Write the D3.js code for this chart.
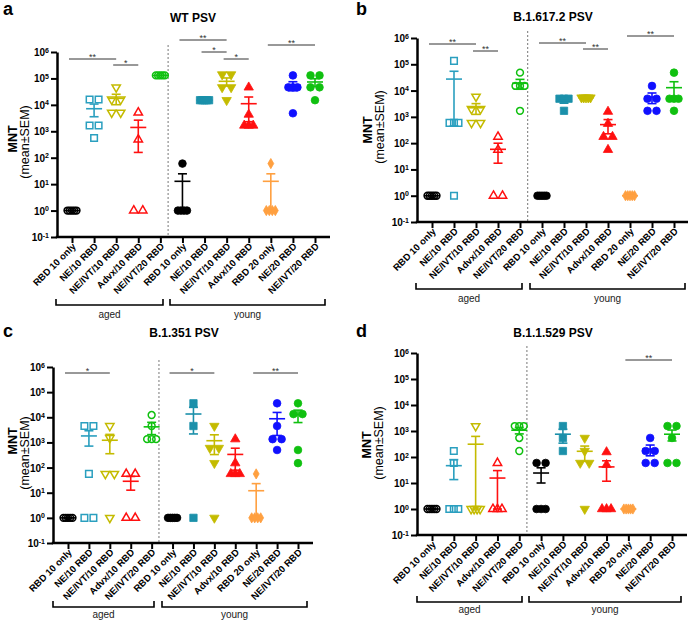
<!DOCTYPE html>
<html><head><meta charset="utf-8">
<script src="https://cdn.jsdelivr.net/npm/d3@7"></script>
<style>body{margin:0;background:#fff} svg{display:block} text{font-family:"Liberation Sans",Arial,sans-serif}</style>
</head><body><svg id="chart" width="691" height="620"></svg>
<script>
// ---------- DATA ----------
const categories = ["RBD 10 only","NE/10 RBD","NE/IVT/10 RBD","Advx/10 RBD","NE/IVT/20 RBD",
                    "RBD 10 only","NE/10 RBD","NE/IVT/10 RBD","Advx/10 RBD","RBD 20 only","NE/20 RBD","NE/IVT/20 RBD"];
const groupLabels = ["aged","young"];
const yTickExponents = [-1,0,1,2,3,4,5,6];
const panelTitles = ["WT PSV","B.1.617.2 PSV","B.1.351 PSV","B.1.1.529 PSV"];
const panelLetters = ["a","b","c","d"];
const yLabelMain = "MNT";
const yLabelSub = "(mean\u00B1SEM)";

// MNT per animal, one array per group (order = categories)
const wtPSV = [
  [1,1,1,1,1],
  [15900,15900,1660,1660,560],
  [46000,16000,16000,5100,5100],
  [5100,490,1,1],
  [130000,130000,130000,130000,130000],
  [60,1,1,1,1],
  [15000,15000,15000,15000,15000],
  [141000,141000,46000,46000,15000],
  [46000,4300,1660,1660,1660],
  [60,1,1,1,1],
  [130000,46000,46000,46000,4800],
  [130000,130000,46000,46000,15000]
];
const deltaPSV = [
  [1,1,1,1,1],
  [135000,590,590,590,1],
  [5900,2000,2000,590,590],
  [175,56,1,1],
  [48000,15000,15000,15000,1700],
  [1,1,1,1,1],
  [4900,4900,4900,1700],
  [5400,5400,5400,5400,5400],
  [1580,550,175,175,56],
  [1,1,1,1,1],
  [15000,4900,4900,1700,1700],
  [48000,4900,4900,4900,1700]
];
const betaPSV = [
  [1,1,1,1,1],
  [4500,4500,56,1,1],
  [4500,1500,56,56,1],
  [56,56,1,1],
  [12300,4500,1350,1350,1350],
  [1,1,1,1,1],
  [36000,4500,1],
  [4500,600,600,150,1],
  [1350,150,56,56,56],
  [56,1,1,1,1],
  [36000,4500,1350,1350,500],
  [36000,13400,13400,500,150]
];
const omicronPSV = [
  [1,1,1,1,1],
  [170,59,1,1,1],
  [1550,1,1,1,1],
  [59,1,1,1],
  [1550,1550,1550,540,170],
  [59,59,1,1,1],
  [1550,540,170],
  [540,170,59,59,1],
  [155,50,1,1,1],
  [1,1,1,1,1],
  [540,170,170,59,59],
  [1550,1550,540,59,59]
];
// significance comparisons: [from group, to group, label]
const wtSig = [[0,2,"**"],[2,3,"*"],[5,7,"**"],[6,7,"*"],[7,8,"*"],[9,11,"**"]];
const deltaSig = [[0,2,"**"],[2,3,"**"],[5,7,"**"],[7,8,"**"],[9,11,"**"]];
const betaSig = [[0,2,"*"],[5,7,"*"],[9,11,"**"]];
const omicronSig = [[9,11,"**"]];

// ---------- STYLE ----------
const teal="#2a9fbf", olive="#c4bb00", red="#ff1010", green="#10c010", orange="#ffa040", blue="#1010ff";
const seriesStyle = [
  {shape:"circle", color:"#000", filled:false},
  {shape:"square", color:teal, filled:false},
  {shape:"triDown", color:olive, filled:false},
  {shape:"triUp", color:red, filled:false},
  {shape:"circle", color:green, filled:false},
  {shape:"circle", color:"#000", filled:true},
  {shape:"square", color:"#1b90aa", filled:true},
  {shape:"triDown", color:olive, filled:true},
  {shape:"triUp", color:red, filled:true},
  {shape:"diamond", color:orange, filled:true},
  {shape:"circle", color:blue, filled:true},
  {shape:"circle", color:green, filled:true}
];
const layouts = [
 {yAxisX:57, xEnd:330, yTop:52, yBot:237, xFirst:72, xLast:315, bracketY:305, agedX:[56,163], youngX:[170,325], groupLabelY:318, titleX:193, titleY:22, letterX:3, letterY:15, mntX:13, mntY:139, semX:25, semY:142, sigY:[59,65,40,52,59,45]},
 {yAxisX:417, xEnd:688, yTop:38, yBot:222, xFirst:432, xLast:674, bracketY:289, agedX:[416,522], youngX:[530,685], groupLabelY:302, titleX:553, titleY:21, letterX:356, letterY:15, mntX:368, mntY:130, semX:380, semY:127, sigY:[44,51,43,49,36]},
 {yAxisX:53, xEnd:313, yTop:367, yBot:543, xFirst:68, xLast:298, bracketY:607, agedX:[53,154], youngX:[162,307], groupLabelY:618, titleX:184, titleY:337, letterX:3, letterY:337, mntX:13, mntY:441, semX:25, semY:453, sigY:[373,373,373]},
 {yAxisX:417, xEnd:687, yTop:353, yBot:535, xFirst:432, xLast:672, bracketY:602, agedX:[417,522], youngX:[529,681], groupLabelY:613, titleX:553, titleY:337, letterX:356, letterY:337, mntX:367, mntY:445, semX:379, semY:443, sigY:[360]}
];
const panelData = [wtPSV, deltaPSV, betaPSV, omicronPSV];
const panelSig = [wtSig, deltaSig, betaSig, omicronSig];

const svg = d3.select("#chart");
const symbolType = {circle:d3.symbolCircle, square:d3.symbolSquare, triUp:d3.symbolTriangle, triDown:d3.symbolTriangle, diamond:d3.symbolDiamond};
const symbolSize = {circle:46, square:54, triUp:38, triDown:38, diamond:30};

function drawPanel(pi){
  const L = layouts[pi], values = panelData[pi], sigs = panelSig[pi];
  const g = svg.append("g");
  const x = d3.scalePoint().domain(d3.range(categories.length)).range([L.xFirst, L.xLast]);
  const y = d3.scaleLog().domain([10**yTickExponents[0], 10**yTickExponents[yTickExponents.length-1]]).range([L.yBot, L.yTop]);

  // divider
  const divX = x(4) + 0.35*(x(5)-x(4));
  g.append("line").attr("x1",divX).attr("x2",divX).attr("y1",L.yTop-7).attr("y2",L.yBot)
    .attr("stroke","#777").attr("stroke-width",1).attr("stroke-dasharray","2,2");

  // y axis
  const ya = g.append("g").attr("transform",`translate(${L.yAxisX},0)`)
    .call(d3.axisLeft(y).tickValues(yTickExponents.map(e=>10**e)).tickSize(6).tickSizeOuter(0).tickFormat(""));
  ya.select(".domain").attr("stroke","#000").attr("stroke-width",2.5);
  ya.selectAll(".tick line").attr("stroke","#000").attr("stroke-width",2);
  ya.selectAll(".tick text").each(function(d){
    const t = d3.select(this);
    t.text(null).attr("x",-8).attr("dy","0.35em").attr("font-size",10).attr("font-weight","bold").attr("fill","#000")
      .style("font-family",'"Liberation Sans",Arial,sans-serif');
    t.append("tspan").text("10");
    t.append("tspan").attr("dy","-0.5em").attr("font-size",7).text(Math.round(Math.log10(d)));
  });

  // x axis
  const xa = g.append("g").attr("transform",`translate(0,${L.yBot})`)
    .call(d3.axisBottom(x).tickSize(6).tickSizeOuter(0).tickFormat(i=>categories[i]));
  xa.select(".domain").remove();
  xa.selectAll(".tick line").attr("stroke","#000").attr("stroke-width",2);
  xa.selectAll(".tick text").attr("text-anchor","end").attr("x",0).attr("y",0).attr("dy",0)
    .attr("transform","translate(4,10) rotate(-45)").attr("font-size",9.5).attr("font-weight","bold").attr("fill","#000")
    .style("font-family",'"Liberation Sans",Arial,sans-serif');
  g.append("line").attr("x1",L.yAxisX-1.2).attr("x2",L.xEnd).attr("y1",L.yBot).attr("y2",L.yBot)
    .attr("stroke","#000").attr("stroke-width",2.5);

  // points
  values.forEach((arr,i)=>{
    const st = seriesStyle[i];
    const sym = d3.symbol().type(symbolType[st.shape]).size(st.filled ? symbolSize[st.shape] : symbolSize[st.shape]*0.8);
    const byVal = d3.group(arr, v=>v);
    byVal.forEach((items, v)=>{
      const n = items.length, step = n>1 ? 9/(n-1) : 0;
      items.forEach((_,j)=>{
        const px = x(i) + (j-(n-1)/2)*step, py = y(v);
        g.append("path").attr("d",sym())
          .attr("transform",`translate(${px},${py})` + (st.shape==="triDown" ? " rotate(180)" : ""))
          .attr("fill", st.filled ? st.color : "none")
          .attr("stroke", st.color).attr("stroke-width", st.filled ? 0.8 : 1.5);
      });
    });
    // mean ± SEM
    const m = d3.mean(arr), sem = arr.length>1 ? d3.deviation(arr)/Math.sqrt(arr.length) : 0;
    const lo = Math.max(m-sem, y.domain()[0]), hi = m+sem;
    const eg = g.append("g").attr("stroke", st.color).attr("stroke-width",1.6);
    eg.append("line").attr("x1",x(i)).attr("x2",x(i)).attr("y1",y(lo)).attr("y2",y(hi));
    eg.append("line").attr("x1",x(i)-4.5).attr("x2",x(i)+4.5).attr("y1",y(lo)).attr("y2",y(lo));
    eg.append("line").attr("x1",x(i)-4.5).attr("x2",x(i)+4.5).attr("y1",y(hi)).attr("y2",y(hi));
    eg.append("line").attr("x1",x(i)-8).attr("x2",x(i)+8).attr("y1",y(m)).attr("y2",y(m));
  });

  // significance bars
  sigs.forEach((s,k)=>{
    const yy = L.sigY[k];
    g.append("line").attr("x1",x(s[0])-3).attr("x2",x(s[1])).attr("y1",yy).attr("y2",yy).attr("stroke","#333").attr("stroke-width",1);
    g.append("text").attr("x",(x(s[0])-3+x(s[1]))/2).attr("y",yy+1).attr("text-anchor","middle")
      .attr("font-size",9).attr("fill","#333").text(s[2]);
  });

  // group brackets
  [L.agedX, L.youngX].forEach((bx,k)=>{
    g.append("path").attr("d",`M${bx[0]},${L.bracketY-6}V${L.bracketY}H${bx[1]}V${L.bracketY-6}`)
      .attr("fill","none").attr("stroke","#000").attr("stroke-width",1.6);
    g.append("text").attr("x",(bx[0]+bx[1])/2).attr("y",L.groupLabelY).attr("text-anchor","middle")
      .attr("font-size",10).attr("fill","#222").text(groupLabels[k]);
  });

  // title, letter, y label
  g.append("text").attr("x",L.titleX).attr("y",L.titleY).attr("text-anchor","middle")
    .attr("font-size",12).attr("font-weight","bold").text(panelTitles[pi]);
  g.append("text").attr("x",L.letterX).attr("y",L.letterY)
    .attr("font-size",18).attr("font-weight","bold").text(panelLetters[pi]);
  g.append("text").attr("transform",`translate(${L.mntX},${L.mntY}) rotate(-90)`).attr("text-anchor","middle")
    .attr("dominant-baseline","central").attr("font-size",12.5).attr("font-weight","bold").text(yLabelMain);
  g.append("text").attr("transform",`translate(${L.semX},${L.semY}) rotate(-90)`).attr("text-anchor","middle")
    .attr("dominant-baseline","central").attr("font-size",12.5).text(yLabelSub);
}
[0,1,2,3].forEach(drawPanel);
</script></body></html>
